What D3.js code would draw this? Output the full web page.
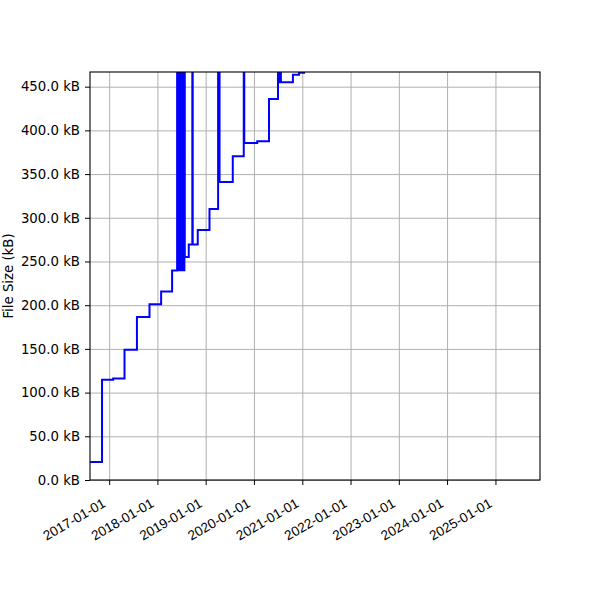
<!DOCTYPE html>
<html>
<head>
<meta charset="utf-8">
<script src="https://cdn.jsdelivr.net/npm/d3@7"></script>
<style>
  body { margin: 0; background: #fff; }
  svg { font-family: "DejaVu Sans", sans-serif; }
  .grid line { stroke: #b0b0b0; stroke-width: 1; }
  .grid .domain { display: none; }
</style>
</head>
<body>
<svg id="chart" width="600" height="600"></svg>
<script>
// commit dates and file size (kB)
const dates = [
  '2016-08-10', '2016-11-08', '2017-01-31', '2017-04-27', '2017-07-30', '2017-11-02',
  '2018-01-29', '2018-04-22',
  '2018-05-30', '2018-06-02', '2018-06-05', '2018-06-09', '2018-06-12', '2018-06-16',
  '2018-06-19', '2018-06-23', '2018-06-26', '2018-06-30', '2018-07-03', '2018-07-07',
  '2018-07-10', '2018-07-14', '2018-07-17', '2018-07-21', '2018-07-24', '2018-07-27',
  '2018-08-26', '2018-09-22', '2018-09-25', '2018-11-02', '2019-01-30', '2019-04-05',
  '2019-04-16', '2019-07-25', '2019-10-16', '2019-10-20', '2020-01-26', '2020-04-24',
  '2020-07-01', '2020-07-06', '2020-07-10', '2020-07-15', '2020-07-19', '2020-07-23',
  '2020-10-22', '2020-12-07', '2020-12-16', '2021-01-01', '2021-01-22'
];
const sizes = [
  20.6, 114.7, 116.0, 149.0, 186.6, 201.0,
  215.6, 239.7,
  620, 240, 620, 240, 620, 240,
  620, 240, 620, 240, 620, 240,
  620, 240, 620, 240, 620, 255,
  269.5, 620, 269.5, 285.9, 310.0, 620,
  341.0, 370.4, 620, 385.7, 387.6, 436.0,
  620, 455, 620, 455, 620, 455,
  463.6, 466.0, 472.0, 466.0, 466.0
];
const yTicks = [0, 50, 100, 150, 200, 250, 300, 350, 400, 450];
const xTickYears = [2017, 2018, 2019, 2020, 2021, 2022, 2023, 2024, 2025];

const parse = d3.timeParse('%Y-%m-%d');
const data = dates.map((d, i) => ({ date: parse(d), size: sizes[i] }));

const margin = { top: 72, right: 60, bottom: 120, left: 90 };
const width = 600 - margin.left - margin.right;
const height = 600 - margin.top - margin.bottom;
const font = '"DejaVu Sans", sans-serif';

const svg = d3.select('#chart');
const g = svg.append('g').attr('transform', `translate(${margin.left},${margin.top})`);

const x = d3.scaleTime()
  .domain([parse('2016-08-09'), parse('2025-12-04')])
  .range([0, width]);
const y = d3.scaleLinear().domain([0, 466.8]).range([height, 0]);

const xTicks = xTickYears.map(yr => new Date(yr, 0, 1));

// grid
g.append('g').attr('class', 'grid')
  .attr('transform', `translate(0,${height})`)
  .call(d3.axisBottom(x).tickValues(xTicks).tickSize(-height).tickFormat(''));
g.append('g').attr('class', 'grid')
  .call(d3.axisLeft(y).tickValues(yTicks).tickSize(-width).tickFormat(''));

svg.append('clipPath').attr('id', 'clip')
  .append('rect').attr('width', width).attr('height', height);

const line = d3.line()
  .x(d => x(d.date))
  .y(d => y(d.size))
  .curve(d3.curveStepAfter);

g.append('path')
  .datum(data)
  .attr('clip-path', 'url(#clip)')
  .attr('fill', 'none')
  .attr('stroke', '#0000ff')
  .attr('stroke-width', 2)
  .attr('d', line);

// axes
const xAxis = g.append('g')
  .attr('transform', `translate(0,${height})`)
  .attr('font-family', font)
  .call(d3.axisBottom(x).tickValues(xTicks).tickSize(5)
    .tickFormat(d3.timeFormat('%Y-%m-%d')));
xAxis.selectAll('text')
  .attr('text-anchor', 'end')
  .attr('font-size', 13.6)
  .attr('fill', '#000')
  .attr('x', 0).attr('y', 0).attr('dy', 0)
  .attr('transform', 'translate(-3,26) rotate(-30)');

const yAxis = g.append('g')
  .call(d3.axisLeft(y).tickValues(yTicks).tickSize(5).tickPadding(5)
    .tickFormat(d => d3.format('.1f')(d) + ' kB'));
yAxis.attr('font-family', font);
yAxis.selectAll('text').attr('font-size', 13.3).attr('fill', '#000');

g.selectAll('.domain').filter(function () { return !this.parentNode.classList.contains('grid'); })
  .remove();
g.append('rect')
  .attr('width', width).attr('height', height)
  .attr('fill', 'none').attr('stroke', '#000').attr('stroke-width', 1.1);

svg.append('text')
  .attr('transform', `translate(13,${margin.top + height / 2}) rotate(-90)`)
  .attr('text-anchor', 'middle')
  .attr('font-size', 13.3)
  .text('File Size (kB)');
</script>
</body>
</html>
